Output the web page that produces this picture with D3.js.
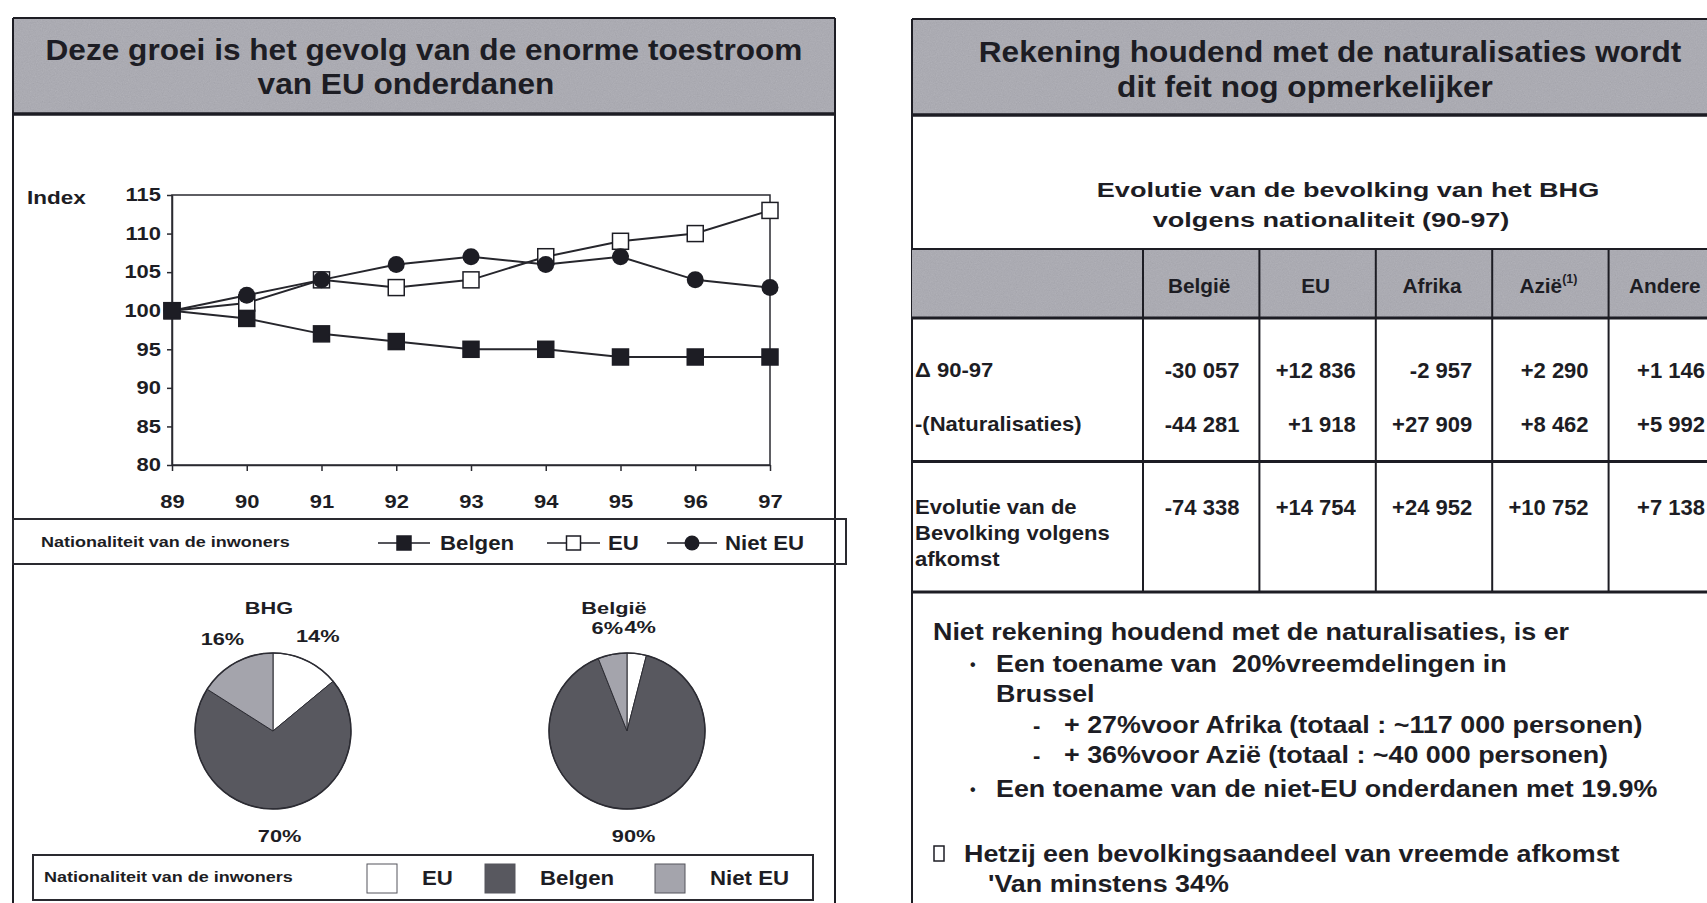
<!DOCTYPE html>
<html>
<head>
<meta charset="utf-8">
<script src="https://cdn.jsdelivr.net/npm/d3@7"></script>
<style>
  body { margin: 0; background: #fff; }
  svg text { font-family: "Liberation Sans", Arial, Helvetica, sans-serif; font-weight: bold; fill: #1d1d24; white-space: pre; }
</style>
</head>
<body>
<svg id="chart"></svg>
<script>
// data
const years = ["89", "90", "91", "92", "93", "94", "95", "96", "97"];
const belgen = [100, 99, 97, 96, 95, 95, 94, 94, 94];
const eu = [100, 101, 104, 103, 104, 107, 109, 110, 113];
const nietEU = [100, 102, 104, 106, 107, 106, 107, 104, 103];
const yTicks = [80, 85, 90, 95, 100, 105, 110, 115];

const pieCats = ["EU", "Belgen", "Niet EU"];
const bhgShares = [14, 70, 16];
const belgieShares = [4, 90, 6];

const tableCols = ["België", "EU", "Afrika", "Azië", "Andere"];
const delta = [-30057, 12836, -2957, 2290, 1146];
const naturalisaties = [-44281, 1918, 27909, 8462, 5992];
const evolutie = [-74338, 14754, 24952, 10752, 7138];

const W = 1707, H = 903;
const INK = "#1d1d24";
const HEAD_GRAY = "#a9a9b1";

const svg = d3.select("#chart").attr("width", W).attr("height", H);

// a bit of scanner grain for the grey header bands
const defs = svg.append("defs");
const grain = defs.append("filter").attr("id", "grain").attr("x", 0).attr("y", 0).attr("width", 1).attr("height", 1);
grain.append("feTurbulence").attr("type", "fractalNoise").attr("baseFrequency", 0.85).attr("numOctaves", 2).attr("seed", 4);
grain.append("feColorMatrix").attr("type", "saturate").attr("values", 0);
grain.append("feComponentTransfer").append("feFuncA").attr("type", "linear").attr("slope", 0.22);

function grayBand(g, x, y, w, h) {
	g.append("rect").attr("x", x).attr("y", y).attr("width", w).attr("height", h).attr("fill", HEAD_GRAY);
	g.append("rect").attr("x", x).attr("y", y).attr("width", w).attr("height", h).attr("filter", "url(#grain)");
}

// text helper, the scan's fonts are wider than Arial so allow a x-stretch
function txt(g, x, y, s, size, opt = {}) {
	return g.append("text")
		.attr("transform", `translate(${x},${y}) scale(${opt.sx || 1},1)`)
		.attr("text-anchor", opt.anchor || "start")
		.attr("dominant-baseline", opt.base || "auto")
		.style("font-size", size + "px")
		.text(s);
}

function hline(g, x1, x2, y, w) {
	g.append("line").attr("x1", x1).attr("x2", x2).attr("y1", y).attr("y2", y)
		.attr("stroke", INK).attr("stroke-width", w);
}
function vline(g, x, y1, y2, w) {
	g.append("line").attr("x1", x).attr("x2", x).attr("y1", y1).attr("y2", y2)
		.attr("stroke", INK).attr("stroke-width", w);
}

// ---------- left panel ----------
const left = svg.append("g");
grayBand(left, 13, 18, 822, 95);
hline(left, 13, 835, 18, 2);
hline(left, 13, 835, 114, 3.5);
vline(left, 13, 18, H, 2);
vline(left, 835, 18, H, 2);
txt(left, 424, 60, "Deze groei is het gevolg van de enorme toestroom", 29, {anchor: "middle", sx: 1.09});
txt(left, 406, 94, "van EU onderdanen", 29, {anchor: "middle", sx: 1.09});

// line chart
const x = d3.scalePoint().domain(years).range([172, 770]);
const y = d3.scaleLinear().domain([80, 115]).range([465, 195]);

const plot = left.append("g");
plot.append("rect").attr("x", 172).attr("y", 195).attr("width", 598).attr("height", 270)
	.attr("fill", "none").attr("stroke", "#2a2a30").attr("stroke-width", 1.5);

const yAxis = plot.append("g").attr("transform", "translate(172,0)")
	.call(d3.axisLeft(y).tickValues(yTicks).tickSize(5).tickPadding(4).tickSizeOuter(0));
const xAxis = plot.append("g").attr("transform", "translate(0,465)")
	.call(d3.axisBottom(x).tickSize(6).tickPadding(24).tickSizeOuter(0));
[yAxis, xAxis].forEach(a => {
	a.attr("font-size", null).attr("font-family", null);
	a.selectAll("path, line").attr("stroke", "#2a2a30").attr("stroke-width", 1.5);
	a.selectAll("text").style("font-size", "18px").attr("fill", INK);
});
yAxis.selectAll("text").attr("transform", "scale(1.22,1)");
xAxis.selectAll("text").attr("transform", "scale(1.22,1)");

txt(left, 27, 204, "Index", 18, {sx: 1.25});

const lineGen = d3.line().x((d, i) => x(years[i])).y(d => y(d));
const series = [
	{name: "EU", values: eu, marker: "open"},
	{name: "Niet EU", values: nietEU, marker: "circle"},
	{name: "Belgen", values: belgen, marker: "square"}
];

series.forEach(s => {
	plot.append("path").datum(s.values).attr("d", lineGen)
		.attr("fill", "none").attr("stroke", "#26262c").attr("stroke-width", 2);
});

function marker(g, type, cx, cy, size) {
	if (type === "circle") {
		g.append("circle").attr("cx", cx).attr("cy", cy).attr("r", size / 2)
			.attr("fill", INK);
	} else {
		g.append("rect").attr("x", cx - size / 2).attr("y", cy - size / 2)
			.attr("width", size).attr("height", size)
			.attr("fill", type === "open" ? "#fff" : INK)
			.attr("stroke", INK).attr("stroke-width", 1.5);
	}
}

series.forEach(s => {
	s.values.forEach((v, i) => marker(plot, s.marker, x(years[i]), y(v), s.marker === "circle" ? 17 : 16));
});

// legend of the line chart
const lg = left.append("g");
lg.append("rect").attr("x", 13).attr("y", 519).attr("width", 833).attr("height", 45)
	.attr("fill", "none").attr("stroke", "#2a2a30").attr("stroke-width", 2);
txt(lg, 41, 542, "Nationaliteit van de inwoners", 15, {base: "central", sx: 1.2});
const legendItems = [
	{name: "Belgen", marker: "square", x1: 378, x2: 430, tx: 440},
	{name: "EU", marker: "open", x1: 547, x2: 600, tx: 608},
	{name: "Niet EU", marker: "circle", x1: 667, x2: 717, tx: 725}
];
legendItems.forEach(d => {
	hline(lg, d.x1, d.x2, 543, 1.5);
	marker(lg, d.marker, (d.x1 + d.x2) / 2, 543, d.marker === "circle" ? 15 : 14);
	txt(lg, d.tx, 543, d.name, 21, {base: "central", sx: 1.06});
});

// pies
const pieColor = d3.scaleOrdinal().domain(pieCats).range(["#ffffff", "#58585f", "#a4a4ac"]);
const pieGen = d3.pie().sort(null).value(d => d.v);
const arc = d3.arc().innerRadius(0).outerRadius(78);
const labelArc = d3.arc().innerRadius(105).outerRadius(105);

function drawPie(cx, cy, shares, title, titleX) {
	const g = left.append("g").attr("transform", `translate(${cx},${cy})`);
	const arcs = pieGen(shares.map((v, i) => ({k: pieCats[i], v: v})));
	g.selectAll("path").data(arcs).enter().append("path")
		.attr("d", arc).attr("fill", d => pieColor(d.data.k))
		.attr("stroke", "#2c2c33").attr("stroke-width", 1);
	g.append("circle").attr("r", 78).attr("fill", "none").attr("stroke", "#2c2c33").attr("stroke-width", 1.5);
	arcs.forEach(d => {
		const c = labelArc.centroid(d);
		txt(g, c[0], c[1], d.data.v + "%", 17, {anchor: "middle", base: "central", sx: 1.28});
	});
	txt(left, titleX, 608, title, 17, {anchor: "middle", base: "central", sx: 1.28});
}
drawPie(273, 731, bhgShares, "BHG", 269);
drawPie(627, 731, belgieShares, "België", 614);

// legend of the pies
const pl = left.append("g");
pl.append("rect").attr("x", 33).attr("y", 855).attr("width", 780).attr("height", 45)
	.attr("fill", "none").attr("stroke", "#2a2a30").attr("stroke-width", 2);
txt(pl, 44, 877, "Nationaliteit van de inwoners", 15, {base: "central", sx: 1.2});
const pieLegendX = [{sw: 367, tx: 422}, {sw: 485, tx: 540}, {sw: 655, tx: 710}];
pieCats.forEach((c, i) => {
	pl.append("rect").attr("x", pieLegendX[i].sw).attr("y", 864).attr("width", 30).attr("height", 29)
		.attr("fill", pieColor(c)).attr("stroke", "#55555c").attr("stroke-width", 1);
	txt(pl, pieLegendX[i].tx, 878, c, 21, {base: "central", sx: 1.06});
});

// ---------- right panel ----------
const right = svg.append("g");
grayBand(right, 912, 19, W - 912, 95);
hline(right, 912, W, 19, 2);
hline(right, 912, W, 115, 3.5);
vline(right, 912, 19, H, 2);
txt(right, 1330, 62, "Rekening houdend met de naturalisaties wordt", 29, {anchor: "middle", sx: 1.09});
txt(right, 1305, 97, "dit feit nog opmerkelijker", 29, {anchor: "middle", sx: 1.09});

txt(right, 1348, 197, "Evolutie van de bevolking van het BHG", 21, {anchor: "middle", sx: 1.29});
txt(right, 1331, 227, "volgens nationaliteit (90-97)", 21, {anchor: "middle", sx: 1.29});

// table
const col = d3.scaleBand().domain(tableCols).range([1143, 1143 + 5 * 116.4]);
const fmt = d3.formatLocale({decimal: ",", thousands: " ", grouping: [3], currency: ["", ""], minus: "-"}).format("+,");
const tb = right.append("g");
grayBand(tb, 912, 249, W - 912, 69);
hline(tb, 912, W, 249, 2);
hline(tb, 912, W, 318, 3);
hline(tb, 912, W, 461.5, 3);
hline(tb, 912, W, 592, 3);
tableCols.forEach(c => vline(tb, col(c), 249, 592, 2));

tableCols.forEach(c => {
	const t = txt(tb, col(c) + col.bandwidth() / 2 - 2, 286, c, 20, {anchor: "middle", base: "central", sx: 1.04});
	if (c === "Azië") t.append("tspan").attr("baseline-shift", "super").style("font-size", "12px").text("(1)");
});

const rows = [
	{label: ["Δ 90-97"], values: delta, y: 370},
	{label: ["-(Naturalisaties)"], values: naturalisaties, y: 424},
	{label: ["Evolutie van de", "Bevolking volgens", "afkomst"], values: evolutie, y: 507}
];
rows.forEach(r => {
	r.label.forEach((l, i) => txt(tb, 915, r.y + i * 26, l, 21, {base: "central", sx: 1.05}));
	r.values.forEach((v, i) => txt(tb, col(tableCols[i]) + col.bandwidth() - 20, r.y, fmt(v), 22, {anchor: "end", base: "central"}));
});

// text block under the table
const tx = right.append("g");
txt(tx, 933, 640, "Niet rekening houdend met de naturalisaties, is er", 24, {sx: 1.12});
txt(tx, 970, 670, "•", 16);
txt(tx, 996, 672, "Een toename van  20%vreemdelingen in", 24, {sx: 1.12});
txt(tx, 996, 702, "Brussel", 24, {sx: 1.12});
txt(tx, 1033, 733, "-", 22);
txt(tx, 1064, 733, "+ 27%voor Afrika (totaal : ~117 000 personen)", 24, {sx: 1.12});
txt(tx, 1033, 763, "-", 22);
txt(tx, 1064, 763, "+ 36%voor Azië (totaal : ~40 000 personen)", 24, {sx: 1.12});
txt(tx, 970, 795, "•", 16);
txt(tx, 996, 797, "Een toename van de niet-EU onderdanen met 19.9%", 24, {sx: 1.12});
tx.append("rect").attr("x", 934).attr("y", 846).attr("width", 10).attr("height", 15)
	.attr("fill", "none").attr("stroke", INK).attr("stroke-width", 1.5);
txt(tx, 964, 862, "Hetzij een bevolkingsaandeel van vreemde afkomst", 24, {sx: 1.12});
txt(tx, 988, 892, "'Van minstens 34%", 24, {sx: 1.12});
</script>
</body>
</html>
